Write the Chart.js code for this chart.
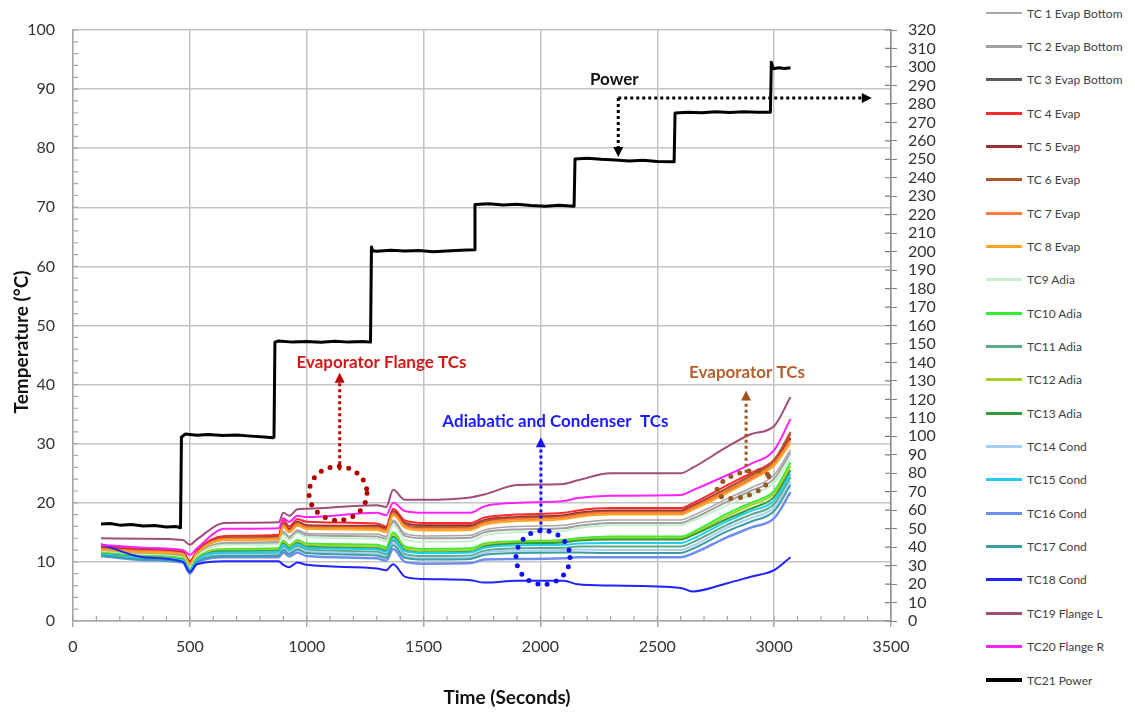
<!DOCTYPE html>
<html>
<head>
<meta charset="utf-8">
<script src="https://cdn.jsdelivr.net/npm/chart.js@4.4.1/dist/chart.umd.min.js"></script>
<style>
  body { margin: 0; background: #fff; }
  #wrap { position: relative; width: 1135px; height: 712px; }
  #c { position: absolute; left: 0; top: 0; }
  .item { position: absolute; left: 986px; height: 18px; display: flex; align-items: center;
          font: 12px Lato, sans-serif; color: #404040; white-space: nowrap; }
  .item span.ln { display: inline-block; width: 36px; margin-right: 5px; }
</style>
</head>
<body>
<div id="wrap">
  <canvas id="c" width="960" height="712"></canvas>
  <div id="legend"></div>
</div>
<script>
// time base of the thermocouple readings (s)
const times = [120, 300, 470, 500, 530, 650, 880, 900, 925, 960, 1000, 1300, 1340, 1370, 1420, 1500, 1700, 1760, 1900, 2100, 2160, 2300, 2600, 2650, 2800, 2900, 3000, 3070];

// temperatures (°C)
const tc1  = [11.9, 11.4, 11.0, 9.3, 11.1, 13.3, 13.5, 15.2, 14.3, 15.4, 14.8, 14.7, 14.3, 17.1, 14.8, 14.4, 14.5, 15.4, 16.0, 16.2, 16.6, 17.1, 17.1, 17.8, 20.7, 22.5, 24.7, 29.0];
const tc2  = [11.8, 11.3, 10.9, 9.2, 11.0, 13.1, 13.2, 14.9, 14.0, 15.1, 14.5, 14.3, 13.9, 16.8, 14.4, 14.0, 14.1, 15.0, 15.5, 15.7, 16.1, 16.6, 16.6, 17.3, 20.2, 22.0, 24.1, 28.5];
const tc3  = [12.1, 11.7, 11.3, 9.6, 11.4, 13.8, 14.0, 16.0, 15.1, 16.2, 15.7, 15.8, 15.4, 18.0, 16.2, 15.7, 15.7, 16.7, 17.3, 17.5, 17.8, 18.2, 18.2, 19.0, 21.9, 24.0, 26.5, 30.8];
const tc4  = [12.7, 12.2, 11.8, 10.1, 11.9, 14.4, 14.6, 17.1, 16.0, 17.2, 16.8, 16.5, 16.0, 19.0, 17.0, 16.6, 16.6, 17.5, 18.0, 18.3, 18.7, 19.1, 19.1, 19.9, 23.0, 25.0, 27.3, 31.6];
const tc5  = [12.4, 12.0, 11.6, 9.9, 11.7, 14.1, 14.3, 16.6, 15.6, 16.8, 16.2, 16.1, 15.7, 18.6, 16.6, 16.2, 16.2, 17.1, 17.6, 17.9, 18.3, 18.7, 18.7, 19.5, 22.5, 24.6, 27.0, 31.0];
const tc6  = [12.3, 11.9, 11.5, 9.8, 11.6, 14.0, 14.2, 16.4, 15.4, 16.6, 16.0, 15.9, 15.5, 18.4, 16.3, 15.9, 15.9, 16.9, 17.4, 17.7, 18.1, 18.5, 18.5, 19.3, 22.4, 24.6, 27.2, 32.0];
const tc7  = [12.2, 11.8, 11.4, 9.7, 11.5, 13.9, 14.0, 16.2, 15.2, 16.4, 15.8, 15.7, 15.3, 18.2, 16.1, 15.6, 15.7, 16.6, 17.2, 17.5, 17.9, 18.3, 18.3, 19.1, 22.1, 24.2, 26.7, 30.6];
const tc8  = [12.0, 11.6, 11.3, 9.6, 11.4, 13.7, 13.8, 15.9, 15.0, 16.1, 15.6, 15.4, 15.0, 17.9, 15.8, 15.3, 15.4, 16.3, 16.9, 17.2, 17.6, 18.0, 18.0, 18.8, 21.7, 23.8, 26.3, 30.1];
const tc9  = [11.7, 11.2, 10.8, 9.1, 10.9, 12.9, 13.0, 14.6, 13.7, 14.8, 14.2, 13.9, 13.5, 16.3, 13.8, 13.4, 13.5, 14.5, 15.0, 15.2, 15.7, 16.2, 16.2, 16.9, 19.6, 21.4, 23.4, 27.6];
const tc10 = [11.6, 11.0, 10.6, 8.8, 10.6, 12.2, 12.3, 13.6, 12.8, 13.7, 13.1, 12.9, 12.5, 15.0, 12.6, 12.2, 12.3, 13.1, 13.5, 13.7, 14.0, 14.3, 14.3, 15.0, 18.2, 20.0, 22.0, 26.8];
const tc11 = [11.3, 10.6, 10.2, 8.4, 10.2, 11.4, 11.5, 12.6, 11.8, 12.7, 12.1, 11.7, 11.3, 13.6, 11.3, 11.0, 11.1, 11.9, 12.3, 12.4, 12.6, 12.6, 12.6, 13.3, 16.3, 18.0, 19.8, 24.3];
const tc12 = [11.5, 10.9, 10.5, 8.7, 10.5, 12.0, 12.1, 13.4, 12.6, 13.5, 12.9, 12.6, 12.2, 14.7, 12.3, 11.9, 12.0, 12.9, 13.3, 13.5, 13.8, 14.0, 14.0, 14.7, 17.8, 19.6, 21.6, 26.2];
const tc13 = [11.4, 10.8, 10.4, 8.6, 10.4, 11.8, 11.9, 13.1, 12.3, 13.2, 12.6, 12.3, 11.9, 14.3, 12.0, 11.6, 11.7, 12.6, 13.1, 13.3, 13.6, 13.8, 13.8, 14.5, 17.3, 19.0, 21.0, 25.5];
const tc14 = [11.2, 10.5, 10.1, 8.3, 10.1, 11.2, 11.3, 12.3, 11.6, 12.4, 11.8, 11.4, 11.0, 13.2, 11.0, 10.7, 10.8, 11.6, 11.9, 12.0, 12.1, 12.0, 12.0, 12.7, 15.8, 17.4, 19.2, 23.6];
const tc15 = [11.3, 10.7, 10.3, 8.5, 10.3, 11.6, 11.7, 12.9, 12.1, 13.0, 12.4, 12.1, 11.7, 14.0, 11.8, 11.5, 11.6, 12.4, 12.8, 12.9, 13.1, 13.2, 13.2, 13.9, 16.9, 18.6, 20.4, 24.9];
const tc16 = [11.0, 10.3, 9.9, 8.0, 9.8, 10.8, 10.8, 11.6, 10.9, 11.6, 11.0, 10.6, 10.2, 12.2, 10.0, 9.7, 9.8, 10.4, 10.5, 10.6, 10.8, 10.8, 10.8, 11.4, 14.2, 15.8, 17.4, 21.8];
const tc17 = [11.1, 10.4, 10.0, 8.2, 10.0, 11.0, 11.1, 12.0, 11.3, 12.1, 11.5, 11.1, 10.7, 12.8, 10.7, 10.4, 10.5, 11.2, 11.5, 11.6, 11.6, 11.5, 11.5, 12.2, 15.2, 16.8, 18.6, 23.0];
const tc18 = [13.0, 10.8, 10.0, 8.3, 9.6, 10.1, 10.1, 9.5, 9.1, 9.9, 9.5, 8.9, 8.6, 9.6, 7.5, 7.1, 6.9, 6.5, 6.8, 6.8, 6.2, 6.0, 5.6, 5.0, 6.4, 7.5, 8.6, 10.8];
const tc19 = [14.0, 13.9, 13.7, 12.9, 13.8, 16.6, 16.7, 18.3, 17.8, 18.9, 19.0, 19.6, 19.3, 22.2, 20.5, 20.5, 20.9, 21.4, 23.0, 23.2, 23.8, 25.0, 25.0, 25.9, 29.5, 31.6, 33.0, 37.9];
const tc20 = [12.9, 12.4, 12.0, 11.2, 12.3, 15.6, 15.7, 17.4, 16.8, 17.8, 17.6, 18.3, 17.9, 20.0, 18.6, 18.3, 18.3, 19.4, 20.0, 20.3, 20.8, 21.2, 21.3, 22.1, 24.7, 26.6, 28.9, 34.2];

// heater power (W), right axis
const powerTime = [120, 160, 200, 250, 300, 350, 400, 440, 460,
  464, 480, 530, 580, 640, 700, 760, 820, 855, 860,
  864, 880, 940, 1000, 1060, 1120, 1180, 1240, 1273,
  1277, 1282, 1300, 1360, 1420, 1480, 1540, 1600, 1660, 1716,
  1720, 1780, 1840, 1900, 1960, 2020, 2080, 2144,
  2148, 2200, 2260, 2320, 2380, 2440, 2500, 2572,
  2576, 2630, 2690, 2750, 2810, 2870, 2930, 2984,
  2988, 2996, 3020, 3045, 3070];
const powerW = [52.5, 52.8, 51.9, 52.2, 51.4, 51.7, 50.9, 51.2, 50.5,
  99.5, 101.2, 100.6, 101.0, 100.4, 100.7, 100.1, 99.6, 99.2, 99.5,
  151.0, 151.6, 151.0, 151.4, 150.9, 151.5, 151.0, 151.3, 151.0,
  202.5, 200.5, 200.2, 200.8, 200.3, 200.6, 199.9, 200.4, 200.8, 201.0,
  225.5, 225.9, 225.3, 225.6, 225.0, 224.6, 225.1, 224.6,
  250.2, 250.6, 250.0, 249.6, 249.1, 249.5, 248.8, 248.6,
  275.0, 275.5, 275.2, 275.8, 275.3, 275.7, 275.4, 275.5,
  302.5, 299.0, 299.6, 299.2, 299.6];

const names = ['TC 1 Evap Bottom', 'TC 2 Evap Bottom', 'TC 3 Evap Bottom', 'TC 4 Evap', 'TC 5 Evap', 'TC 6 Evap', 'TC 7 Evap', 'TC 8 Evap',
  'TC9 Adia', 'TC10 Adia', 'TC11 Adia', 'TC12 Adia', 'TC13 Adia', 'TC14 Cond', 'TC15 Cond', 'TC16 Cond', 'TC17 Cond', 'TC18 Cond',
  'TC19 Flange L', 'TC20 Flange R', 'TC21 Power'];
const colors = ['#a6a6a6', '#a0a0a0', '#595959', '#ff2a2a', '#9b2d32', '#b0582c', '#ff7f3a', '#ffa626', '#c6efce', '#33ee33',
  '#5aaa88', '#a8d02a', '#2e9e3a', '#a6cdf5', '#22ccee', '#6c8ef0', '#3a9e9e', '#2222ff', '#a04d78', '#ff22ff', '#000000'];
const widths = [1.5, 2, 2, 2, 2, 2, 2, 2, 2, 2, 2, 2, 2, 2, 2, 2.5, 2, 2, 2, 2, 3];

const tcSeries = [tc1, tc2, tc3, tc4, tc5, tc6, tc7, tc8, tc9, tc10, tc11, tc12, tc13, tc14, tc15, tc16, tc17, tc18, tc19, tc20];

const datasets = tcSeries.map((vals, i) => ({
  label: names[i],
  data: times.map((t, j) => ({x: t, y: vals[j]})),
  borderColor: colors[i],
  borderWidth: widths[i],
  cubicInterpolationMode: 'monotone',
  pointRadius: 0,
  yAxisID: 'y',
  order: 40 - i
}));
datasets.push({
  label: names[20],
  data: powerTime.map((t, j) => ({x: t, y: powerW[j]})),
  borderColor: colors[20],
  borderWidth: widths[20],
  borderJoinStyle: 'round',
  pointRadius: 0,
  yAxisID: 'y1',
  order: 0
});

function dotArrow(ctx, x1, y1, x2, y2, color) {
  const ang = Math.atan2(y2 - y1, x2 - x1);
  const hx = x2 - Math.cos(ang) * 10, hy = y2 - Math.sin(ang) * 10;
  ctx.strokeStyle = color;
  ctx.lineWidth = 3;
  ctx.lineCap = 'butt';
  ctx.setLineDash([3, 3]);
  ctx.beginPath(); ctx.moveTo(x1, y1); ctx.lineTo(hx, hy); ctx.stroke();
  ctx.setLineDash([]);
  ctx.fillStyle = color;
  ctx.beginPath();
  ctx.moveTo(x2, y2);
  ctx.lineTo(hx + Math.sin(ang) * 5, hy - Math.cos(ang) * 5);
  ctx.lineTo(hx - Math.sin(ang) * 5, hy + Math.cos(ang) * 5);
  ctx.closePath(); ctx.fill();
}

function dotRing(ctx, cx, cy, rx, ry, rot, color) {
  ctx.strokeStyle = color;
  ctx.lineWidth = 5;
  ctx.lineCap = 'round';
  ctx.setLineDash([0, 9.5]);
  ctx.beginPath(); ctx.ellipse(cx, cy, rx, ry, rot, 0, Math.PI * 2); ctx.stroke();
  ctx.setLineDash([]);
}

const overlay = {
  id: 'overlay',
  afterDraw(chart) {
    const {ctx, chartArea: a, scales: {x, y, y1}} = chart;
    const X = v => x.getPixelForValue(v), Y = v => y.getPixelForValue(v);
    ctx.save();
    // minor tick marks inside the plot
    ctx.strokeStyle = '#a6a6a6';
    ctx.lineWidth = 1.2;
    ctx.beginPath();
    for (let v = 0; v <= 100; v += 2) { ctx.moveTo(a.left, Y(v)); ctx.lineTo(a.left + 5, Y(v)); }
    for (let v = 0; v <= 3500; v += 100) { ctx.moveTo(X(v), a.bottom); ctx.lineTo(X(v), a.bottom - 5); }
    ctx.stroke();
    ctx.strokeStyle = '#7f7f7f';
    ctx.beginPath();
    for (let v = 0; v <= 320; v += 10) { const p = y1.getPixelForValue(v); ctx.moveTo(a.right - 6, p); ctx.lineTo(a.right, p); }
    ctx.stroke();

    // axis titles
    ctx.fillStyle = '#111';
    ctx.font = 'bold 19px Lato, sans-serif';
    ctx.textAlign = 'center';
    ctx.textBaseline = 'middle';
    ctx.fillText('Time (Seconds)', 507, 698);
    ctx.save();
    ctx.translate(22, 342);
    ctx.rotate(-Math.PI / 2);
    ctx.fillText('Temperature (°C)', 0, 0);
    ctx.restore();

    // call-outs
    ctx.font = 'bold 17px Lato, sans-serif';
    ctx.fillStyle = '#111';
    ctx.fillText('Power', X(2316), Y(91.6));
    dotArrow(ctx, X(2333), Y(88.5), X(3418), Y(88.5), '#000');
    dotArrow(ctx, X(2333), Y(88.5), X(2333), Y(78.5), '#000');

    ctx.fillStyle = '#d01818';
    ctx.fillText('Evaporator Flange TCs', X(1320), Y(43.8));
    dotRing(ctx, X(1134), Y(21.6), 29, 27, 0, '#b00000');
    dotArrow(ctx, X(1141), Y(25.5), X(1141), Y(42.0), '#c00000');

    ctx.fillStyle = '#1a1aff';
    ctx.fillText('Adiabatic and Condenser  TCs', X(2064), Y(33.8));
    dotRing(ctx, X(2011), Y(10.75), 27, 27, 0, '#1010ff');
    dotArrow(ctx, X(2002), Y(15.3), X(2002), Y(31.1), '#1010ff');

    ctx.fillStyle = '#b4602c';
    ctx.fillText('Evaporator TCs', X(2884), Y(42.1));
    dotRing(ctx, X(2867), Y(23.1), 27, 12, -0.3, '#9c5420');
    dotArrow(ctx, X(2880), Y(25.1), X(2880), Y(39.0), '#9c5420');
    ctx.restore();
  }
};

const tickFont = {family: 'Lato, sans-serif', size: 16};

new Chart(document.getElementById('c'), {
  type: 'line',
  data: {datasets},
  options: {
    responsive: false,
    animation: false,
    layout: {padding: {top: 30, left: 0, right: 0, bottom: 0}},
    plugins: {legend: {display: false}, tooltip: {enabled: false}},
    scales: {
      x: {
        type: 'linear', min: 0, max: 3500,
        ticks: {stepSize: 500, font: tickFont, color: '#333', padding: 10, callback: v => String(v)},
        grid: {color: '#c4c4c4', lineWidth: 1.5, tickLength: 6, tickColor: '#a6a6a6'},
        border: {color: '#a6a6a6', width: 1.5},
        afterFit: s => { s.height = 91; }
      },
      y: {
        position: 'left', min: 0, max: 100,
        ticks: {stepSize: 10, font: tickFont, color: '#333', padding: 18},
        grid: {color: '#c4c4c4', lineWidth: 1.5, drawTicks: false},
        border: {color: '#a6a6a6', width: 1.5},
        afterFit: s => { s.width = 73; }
      },
      y1: {
        position: 'right', min: 0, max: 320,
        ticks: {stepSize: 10, autoSkip: false, font: tickFont, color: '#333', padding: 11},
        grid: {drawOnChartArea: false, tickLength: 6, tickColor: '#7f7f7f'},
        border: {color: '#8c8c8c', width: 1.5},
        afterFit: s => { s.width = 69; }
      }
    }
  },
  plugins: [overlay]
});

// legend as text next to the chart
const legend = document.getElementById('legend');
names.forEach((name, i) => {
  const item = document.createElement('div');
  item.className = 'item';
  item.style.top = (13 + i * 33.35 - 9) + 'px';
  const ln = document.createElement('span');
  ln.className = 'ln';
  ln.style.height = (i === 20 ? 4 : widths[i] + 1) + 'px';
  ln.style.background = colors[i];
  const txt = document.createElement('span');
  txt.textContent = name;
  item.appendChild(ln);
  item.appendChild(txt);
  legend.appendChild(item);
});
</script>
</body>
</html>
